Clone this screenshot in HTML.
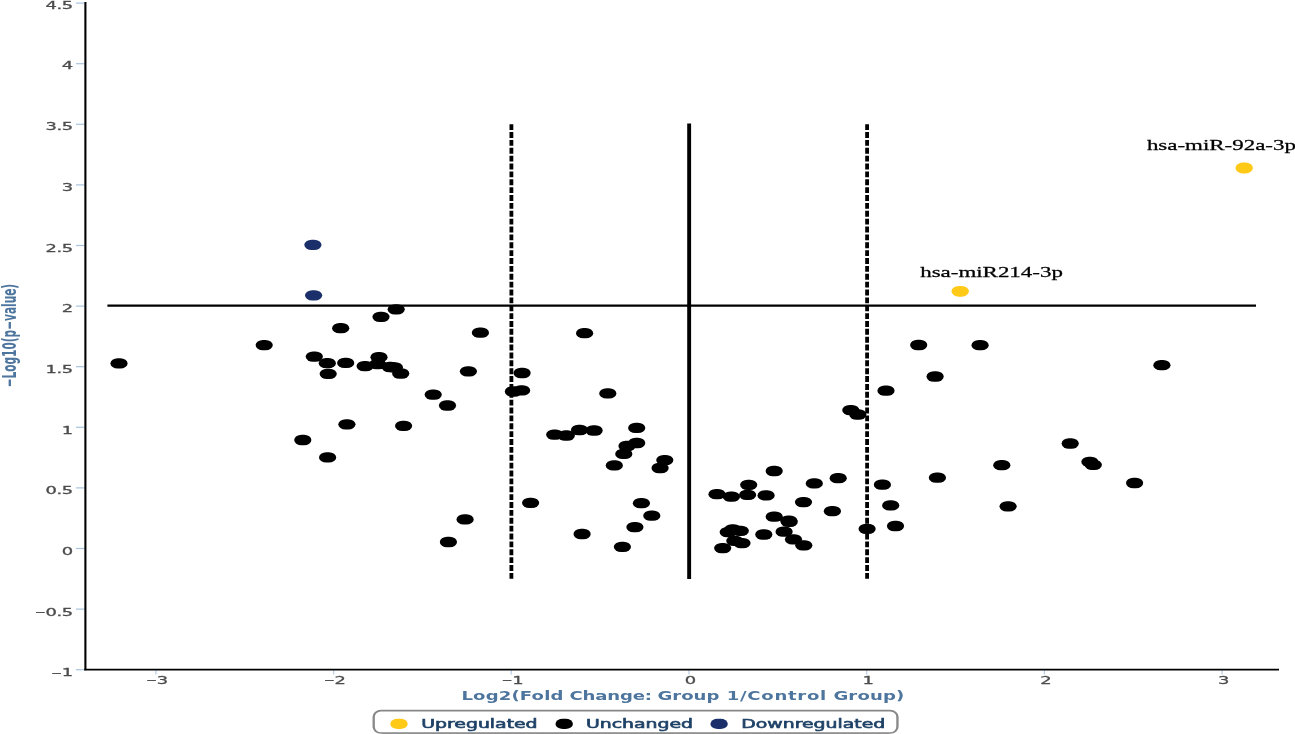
<!DOCTYPE html>
<html><head><meta charset="utf-8"><title>Volcano plot</title>
<style>
html,body{margin:0;padding:0;background:#fff;}
body{width:1295px;height:734px;overflow:hidden;}
svg{display:block;}
.tk{font-family:"DejaVu Sans","Liberation Sans",sans-serif;font-size:11px;fill:#4c4c4c;stroke:#4c4c4c;stroke-width:0.3px;letter-spacing:-0.25px;}
.ax{font-family:"DejaVu Sans","Liberation Sans",sans-serif;font-weight:bold;font-size:12.5px;fill:#4d759e;}
.lg{font-family:"DejaVu Sans","Liberation Sans",sans-serif;font-weight:normal;font-size:11.1px;fill:#1f4267;stroke:#1f4267;stroke-width:0.55px;}
.an{font-family:"Liberation Serif",serif;font-size:15px;fill:#000;stroke:#000;stroke-width:0.25px;}
</style></head><body>
<svg width="1295" height="734" viewBox="0 0 1295 734">
<rect width="1295" height="734" fill="#fff"/>

<g stroke="#a9c3de" stroke-width="1.2">
<line x1="76" y1="3.1" x2="84.5" y2="3.1"/>
<line x1="76" y1="63.7" x2="84.5" y2="63.7"/>
<line x1="76" y1="124.3" x2="84.5" y2="124.3"/>
<line x1="76" y1="184.9" x2="84.5" y2="184.9"/>
<line x1="76" y1="245.5" x2="84.5" y2="245.5"/>
<line x1="76" y1="306.1" x2="84.5" y2="306.1"/>
<line x1="76" y1="366.7" x2="84.5" y2="366.7"/>
<line x1="76" y1="427.3" x2="84.5" y2="427.3"/>
<line x1="76" y1="487.9" x2="84.5" y2="487.9"/>
<line x1="76" y1="548.5" x2="84.5" y2="548.5"/>
<line x1="76" y1="609.1" x2="84.5" y2="609.1"/>
<line x1="76" y1="669.7" x2="84.5" y2="669.7"/>
</g><g stroke="#bdd0e5" stroke-width="1.3">
<line x1="155.9" y1="669.5" x2="155.9" y2="674.5"/>
<line x1="333.6" y1="669.5" x2="333.6" y2="674.5"/>
<line x1="511.3" y1="669.5" x2="511.3" y2="674.5"/>
<line x1="689.0" y1="669.5" x2="689.0" y2="674.5"/>
<line x1="866.7" y1="669.5" x2="866.7" y2="674.5"/>
<line x1="1044.4" y1="669.5" x2="1044.4" y2="674.5"/>
<line x1="1222.1" y1="669.5" x2="1222.1" y2="674.5"/>
</g>
<line x1="85.4" y1="2" x2="85.4" y2="670.2" stroke="#000" stroke-width="2.1"/>
<line x1="84.3" y1="669.6" x2="1279" y2="669.6" stroke="#000" stroke-width="1.6"/>
<text class="tk" text-anchor="end" transform="translate(72.8,8.7) scale(1.63,1.0)">4.5</text>
<text class="tk" text-anchor="end" transform="translate(72.8,69.4) scale(1.63,1.0)">4</text>
<text class="tk" text-anchor="end" transform="translate(72.8,130.1) scale(1.63,1.0)">3.5</text>
<text class="tk" text-anchor="end" transform="translate(72.8,190.8) scale(1.63,1.0)">3</text>
<text class="tk" text-anchor="end" transform="translate(72.8,251.5) scale(1.63,1.0)">2.5</text>
<text class="tk" text-anchor="end" transform="translate(72.8,312.2) scale(1.63,1.0)">2</text>
<text class="tk" text-anchor="end" transform="translate(72.8,372.8) scale(1.63,1.0)">1.5</text>
<text class="tk" text-anchor="end" transform="translate(72.8,433.5) scale(1.63,1.0)">1</text>
<text class="tk" text-anchor="end" transform="translate(72.8,494.2) scale(1.63,1.0)">0.5</text>
<text class="tk" text-anchor="end" transform="translate(72.8,554.9) scale(1.63,1.0)">0</text>
<text class="tk" text-anchor="end" transform="translate(72.8,615.6) scale(1.63,1.0)"><tspan font-size="8px" font-weight="bold" dy="-0.6">−</tspan><tspan dx="0.2" dy="0.6">0.5</tspan></text>
<text class="tk" text-anchor="end" transform="translate(72.8,676.3) scale(1.63,1.0)"><tspan font-size="8px" font-weight="bold" dy="-0.6">−</tspan><tspan dx="0.2" dy="0.6">1</tspan></text>
<text class="tk" text-anchor="middle" transform="translate(156.9,683.5) scale(1.63,1.0)"><tspan font-size="8px" font-weight="bold" dy="-0.6">−</tspan><tspan dx="0.2" dy="0.6">3</tspan></text>
<text class="tk" text-anchor="middle" transform="translate(334.6,683.5) scale(1.63,1.0)"><tspan font-size="8px" font-weight="bold" dy="-0.6">−</tspan><tspan dx="0.2" dy="0.6">2</tspan></text>
<text class="tk" text-anchor="middle" transform="translate(512.3,683.5) scale(1.63,1.0)"><tspan font-size="8px" font-weight="bold" dy="-0.6">−</tspan><tspan dx="0.2" dy="0.6">1</tspan></text>
<text class="tk" text-anchor="middle" transform="translate(690.3,683.5) scale(1.63,1.0)">0</text>
<text class="tk" text-anchor="middle" transform="translate(868.0,683.5) scale(1.63,1.0)">1</text>
<text class="tk" text-anchor="middle" transform="translate(1045.7,683.5) scale(1.63,1.0)">2</text>
<text class="tk" text-anchor="middle" transform="translate(1223.4,683.5) scale(1.63,1.0)">3</text>
<text class="ax" transform="translate(0,700.4) scale(1.445,1.05)"><tspan x="319.31" style="letter-spacing:0.12px">Log2(Fold </tspan><tspan x="394.12" style="letter-spacing:-0.1px">Change: </tspan><tspan x="455.02" style="letter-spacing:0.0px">Group </tspan><tspan x="502.98" style="letter-spacing:0.49px">1/Control </tspan><tspan x="576.75" style="letter-spacing:0.1px">Group)</tspan></text>
<text class="ax" text-anchor="middle" transform="translate(15.9,335.6) rotate(-90) scale(0.846,1.6)">−Log10(p−value)</text>
<line x1="107.4" y1="305.6" x2="1256" y2="305.6" stroke="#000" stroke-width="2.3"/>
<line x1="689.15" y1="123.5" x2="689.15" y2="579" stroke="#000" stroke-width="3.9"/>
<line x1="511.4" y1="124.2" x2="511.4" y2="579" stroke="#000" stroke-width="3.8" stroke-dasharray="5.9 1.972"/>
<line x1="867.1" y1="124.2" x2="867.1" y2="579" stroke="#000" stroke-width="3.8" stroke-dasharray="5.9 1.972"/>
<g fill="#000">
<rect x="110.40" y="358.25" width="17.20" height="10.30" rx="7.3" ry="5.15"/>
<rect x="255.60" y="339.95" width="17.20" height="10.30" rx="7.3" ry="5.15"/>
<rect x="332.10" y="323.05" width="17.20" height="10.30" rx="7.3" ry="5.15"/>
<rect x="372.40" y="311.65" width="17.20" height="10.30" rx="7.3" ry="5.15"/>
<rect x="387.60" y="304.15" width="17.20" height="10.30" rx="7.3" ry="5.15"/>
<rect x="305.70" y="351.45" width="17.20" height="10.30" rx="7.3" ry="5.15"/>
<rect x="318.70" y="358.05" width="17.20" height="10.30" rx="7.3" ry="5.15"/>
<rect x="337.10" y="357.75" width="17.20" height="10.30" rx="7.3" ry="5.15"/>
<rect x="319.60" y="368.65" width="17.20" height="10.30" rx="7.3" ry="5.15"/>
<rect x="356.50" y="360.95" width="17.20" height="10.30" rx="7.3" ry="5.15"/>
<rect x="370.40" y="352.05" width="17.20" height="10.30" rx="7.3" ry="5.15"/>
<rect x="369.10" y="359.05" width="17.20" height="10.30" rx="7.3" ry="5.15"/>
<rect x="381.70" y="361.85" width="17.20" height="10.30" rx="7.3" ry="5.15"/>
<rect x="385.80" y="362.15" width="17.20" height="10.30" rx="7.3" ry="5.15"/>
<rect x="392.10" y="368.35" width="17.20" height="10.30" rx="7.3" ry="5.15"/>
<rect x="471.80" y="327.55" width="17.20" height="10.30" rx="7.3" ry="5.15"/>
<rect x="459.80" y="366.15" width="17.20" height="10.30" rx="7.3" ry="5.15"/>
<rect x="424.60" y="389.45" width="17.20" height="10.30" rx="7.3" ry="5.15"/>
<rect x="438.90" y="400.35" width="17.20" height="10.30" rx="7.3" ry="5.15"/>
<rect x="576.00" y="328.05" width="17.20" height="10.30" rx="7.3" ry="5.15"/>
<rect x="513.50" y="367.85" width="17.20" height="10.30" rx="7.3" ry="5.15"/>
<rect x="504.80" y="386.35" width="17.20" height="10.30" rx="7.3" ry="5.15"/>
<rect x="513.00" y="385.25" width="17.20" height="10.30" rx="7.3" ry="5.15"/>
<rect x="599.20" y="388.25" width="17.20" height="10.30" rx="7.3" ry="5.15"/>
<rect x="395.00" y="420.65" width="17.20" height="10.30" rx="7.3" ry="5.15"/>
<rect x="546.10" y="429.45" width="17.20" height="10.30" rx="7.3" ry="5.15"/>
<rect x="557.70" y="430.35" width="17.20" height="10.30" rx="7.3" ry="5.15"/>
<rect x="570.90" y="424.85" width="17.20" height="10.30" rx="7.3" ry="5.15"/>
<rect x="585.50" y="425.35" width="17.20" height="10.30" rx="7.3" ry="5.15"/>
<rect x="628.10" y="422.75" width="17.20" height="10.30" rx="7.3" ry="5.15"/>
<rect x="628.10" y="437.85" width="17.20" height="10.30" rx="7.3" ry="5.15"/>
<rect x="618.40" y="440.85" width="17.20" height="10.30" rx="7.3" ry="5.15"/>
<rect x="615.20" y="448.75" width="17.20" height="10.30" rx="7.3" ry="5.15"/>
<rect x="605.70" y="460.25" width="17.20" height="10.30" rx="7.3" ry="5.15"/>
<rect x="656.20" y="454.95" width="17.20" height="10.30" rx="7.3" ry="5.15"/>
<rect x="651.50" y="462.85" width="17.20" height="10.30" rx="7.3" ry="5.15"/>
<rect x="522.00" y="497.65" width="17.20" height="10.30" rx="7.3" ry="5.15"/>
<rect x="456.50" y="514.25" width="17.20" height="10.30" rx="7.3" ry="5.15"/>
<rect x="439.80" y="536.85" width="17.20" height="10.30" rx="7.3" ry="5.15"/>
<rect x="632.80" y="498.05" width="17.20" height="10.30" rx="7.3" ry="5.15"/>
<rect x="643.20" y="510.55" width="17.20" height="10.30" rx="7.3" ry="5.15"/>
<rect x="626.30" y="521.95" width="17.20" height="10.30" rx="7.3" ry="5.15"/>
<rect x="573.50" y="528.85" width="17.20" height="10.30" rx="7.3" ry="5.15"/>
<rect x="613.80" y="541.65" width="17.20" height="10.30" rx="7.3" ry="5.15"/>
<rect x="338.30" y="419.15" width="17.20" height="10.30" rx="7.3" ry="5.15"/>
<rect x="294.20" y="434.85" width="17.20" height="10.30" rx="7.3" ry="5.15"/>
<rect x="319.00" y="452.25" width="17.20" height="10.30" rx="7.3" ry="5.15"/>
<rect x="765.60" y="465.85" width="17.20" height="10.30" rx="7.3" ry="5.15"/>
<rect x="740.10" y="479.65" width="17.20" height="10.30" rx="7.3" ry="5.15"/>
<rect x="708.40" y="489.05" width="17.20" height="10.30" rx="7.3" ry="5.15"/>
<rect x="722.80" y="491.55" width="17.20" height="10.30" rx="7.3" ry="5.15"/>
<rect x="739.00" y="489.65" width="17.20" height="10.30" rx="7.3" ry="5.15"/>
<rect x="757.50" y="490.25" width="17.20" height="10.30" rx="7.3" ry="5.15"/>
<rect x="805.70" y="478.25" width="17.20" height="10.30" rx="7.3" ry="5.15"/>
<rect x="829.60" y="473.05" width="17.20" height="10.30" rx="7.3" ry="5.15"/>
<rect x="794.90" y="496.95" width="17.20" height="10.30" rx="7.3" ry="5.15"/>
<rect x="823.80" y="506.05" width="17.20" height="10.30" rx="7.3" ry="5.15"/>
<rect x="765.60" y="511.55" width="17.20" height="10.30" rx="7.3" ry="5.15"/>
<rect x="780.20" y="515.45" width="17.20" height="10.30" rx="7.3" ry="5.15"/>
<rect x="780.60" y="516.65" width="17.20" height="10.30" rx="7.3" ry="5.15"/>
<rect x="775.50" y="526.55" width="17.20" height="10.30" rx="7.3" ry="5.15"/>
<rect x="755.20" y="529.35" width="17.20" height="10.30" rx="7.3" ry="5.15"/>
<rect x="719.60" y="526.95" width="17.20" height="10.30" rx="7.3" ry="5.15"/>
<rect x="731.70" y="525.65" width="17.20" height="10.30" rx="7.3" ry="5.15"/>
<rect x="724.20" y="524.35" width="17.20" height="10.30" rx="7.3" ry="5.15"/>
<rect x="726.20" y="535.65" width="17.20" height="10.30" rx="7.3" ry="5.15"/>
<rect x="733.40" y="537.95" width="17.20" height="10.30" rx="7.3" ry="5.15"/>
<rect x="714.10" y="542.95" width="17.20" height="10.30" rx="7.3" ry="5.15"/>
<rect x="784.90" y="534.25" width="17.20" height="10.30" rx="7.3" ry="5.15"/>
<rect x="795.20" y="540.15" width="17.20" height="10.30" rx="7.3" ry="5.15"/>
<rect x="858.50" y="523.65" width="17.20" height="10.30" rx="7.3" ry="5.15"/>
<rect x="873.80" y="479.55" width="17.20" height="10.30" rx="7.3" ry="5.15"/>
<rect x="910.10" y="339.85" width="17.20" height="10.30" rx="7.3" ry="5.15"/>
<rect x="971.50" y="340.05" width="17.20" height="10.30" rx="7.3" ry="5.15"/>
<rect x="926.50" y="371.35" width="17.20" height="10.30" rx="7.3" ry="5.15"/>
<rect x="877.40" y="385.55" width="17.20" height="10.30" rx="7.3" ry="5.15"/>
<rect x="842.20" y="404.95" width="17.20" height="10.30" rx="7.3" ry="5.15"/>
<rect x="849.20" y="409.35" width="17.20" height="10.30" rx="7.3" ry="5.15"/>
<rect x="1061.60" y="438.35" width="17.20" height="10.30" rx="7.3" ry="5.15"/>
<rect x="993.20" y="460.05" width="17.20" height="10.30" rx="7.3" ry="5.15"/>
<rect x="1081.30" y="456.65" width="17.20" height="10.30" rx="7.3" ry="5.15"/>
<rect x="1084.70" y="459.65" width="17.20" height="10.30" rx="7.3" ry="5.15"/>
<rect x="928.80" y="472.55" width="17.20" height="10.30" rx="7.3" ry="5.15"/>
<rect x="882.10" y="500.25" width="17.20" height="10.30" rx="7.3" ry="5.15"/>
<rect x="999.50" y="501.15" width="17.20" height="10.30" rx="7.3" ry="5.15"/>
<rect x="886.90" y="520.85" width="17.20" height="10.30" rx="7.3" ry="5.15"/>
<rect x="1153.30" y="360.05" width="17.20" height="10.30" rx="7.3" ry="5.15"/>
<rect x="1126.00" y="477.85" width="17.20" height="10.30" rx="7.3" ry="5.15"/>
</g><g fill="#1b306a">
<rect x="304.30" y="239.65" width="17.20" height="10.30" rx="7.3" ry="5.15"/>
<rect x="305.00" y="290.15" width="17.20" height="10.30" rx="7.3" ry="5.15"/>
</g><g fill="#ffc918">
<rect x="1235.50" y="162.60" width="17.40" height="10.80" rx="7.3" ry="5.4"/>
<rect x="951.50" y="285.90" width="17.40" height="10.80" rx="7.3" ry="5.4"/>
</g>
<text class="an" transform="translate(1146.9,149.8) scale(1.53,1.03)">hsa-miR-92a-3p</text>
<text class="an" transform="translate(920.2,276.7) scale(1.53,1.03)">hsa-miR214-3p</text>
<rect transform="translate(373.7,710.6) scale(1.45,1)" x="0" y="0" width="361.2" height="22.4" rx="5" ry="6.2" fill="#fff" stroke="#888" stroke-width="1.6"/>
<line x1="382" y1="733.6" x2="889" y2="733.6" stroke="#888" stroke-width="0.8"/>
<g fill="#ffc918"><rect x="390.30" y="718.85" width="17.40" height="10.10" rx="7.3" ry="5.05"/></g>
<g fill="#000"><rect x="555.50" y="718.85" width="17.40" height="10.10" rx="7.3" ry="5.05"/></g>
<g fill="#1b306a"><rect x="710.40" y="718.85" width="17.40" height="10.10" rx="7.3" ry="5.05"/></g>
<text class="lg" transform="translate(421.2,727.6) scale(1.70,1.05)">Upregulated</text>
<text class="lg" transform="translate(585.9,727.6) scale(1.70,1.05)">Unchanged</text>
<text class="lg" transform="translate(741.2,727.6) scale(1.70,1.05)">Downregulated</text>
</svg></body></html>
